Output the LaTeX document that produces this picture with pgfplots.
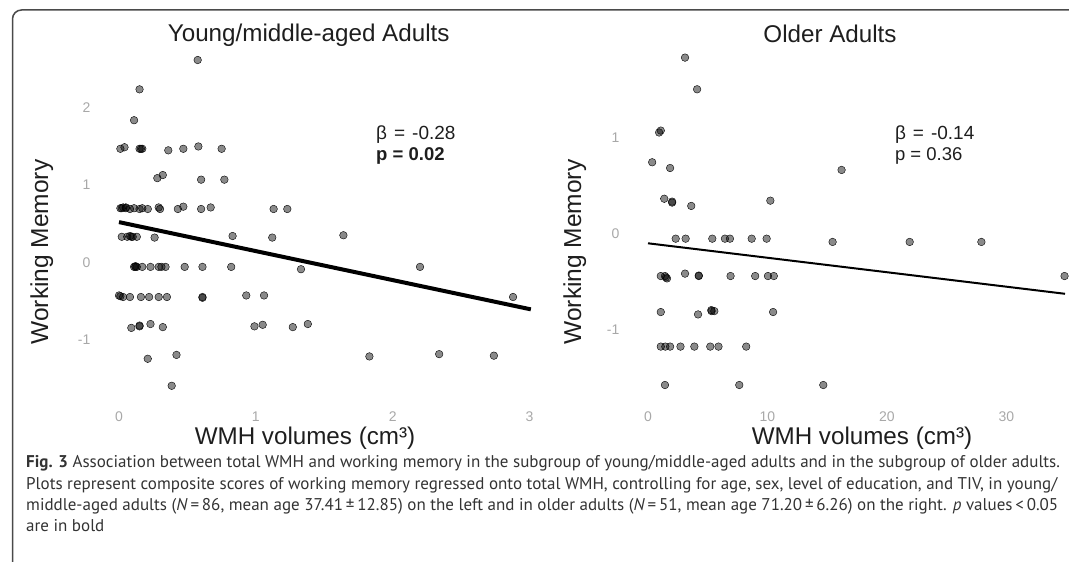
\documentclass[border=0pt]{standalone}
\usepackage{pgfplots}
\pgfplotsset{compat=1.18}
\usepackage{pgfplotstable}
\usepackage{fontspec}
\setmainfont{Liberation Sans}
\newfontfamily\capfont{PT Sans}
\definecolor{ticklab}{HTML}{A8A8A8}
\definecolor{framec}{HTML}{4A4A4A}
\definecolor{captext}{HTML}{333333}
\definecolor{labtext}{HTML}{1E1E1E}

\pgfplotstableread{
x y
0.575 2.62
0.15 2.24
0.11 1.84
0.01 1.47
0.04 1.49
0.15 1.47
0.16 1.47
0.17 1.47
0.36 1.45
0.47 1.47
0.58 1.50
0.75 1.47
0.28 1.09
0.32 1.13
0.60 1.07
0.77 1.07
0.01 0.70
0.02 0.70
0.03 0.71
0.05 0.70
0.05 0.71
0.08 0.69
0.11 0.70
0.15 0.69
0.17 0.70
0.21 0.69
0.29 0.71
0.30 0.69
0.43 0.69
0.47 0.72
0.60 0.69
0.67 0.71
1.13 0.69
1.23 0.69
0.02 0.33
0.06 0.33
0.08 0.34
0.09 0.33
0.10 0.33
0.13 0.33
0.26 0.32
0.83 0.34
1.12 0.32
1.64 0.35
0.11 -0.06
0.12 -0.06
0.12 -0.05
0.13 -0.06
0.17 -0.06
0.23 -0.06
0.29 -0.06
0.31 -0.06
0.34 -0.06
0.48 -0.06
0.61 -0.06
0.82 -0.06
1.33 -0.09
2.20 -0.06
0.00 -0.43
0.01 -0.44
0.03 -0.45
0.08 -0.45
0.16 -0.45
0.22 -0.45
0.29 -0.45
0.35 -0.45
0.61 -0.46
0.61 -0.45
0.93 -0.43
1.06 -0.43
2.88 -0.45
0.09 -0.85
0.15 -0.82
0.15 -0.83
0.23 -0.80
0.32 -0.84
0.99 -0.83
1.05 -0.81
1.27 -0.84
1.38 -0.80
0.21 -1.25
0.42 -1.20
0.385 -1.60
1.83 -1.22
2.34 -1.19
2.74 -1.21
}\youngdata

\pgfplotstableread{
x y
3.10 1.83
4.11 1.50
0.93 1.05
1.07 1.07
0.35 0.74
1.85 0.68
16.2 0.66
1.36 0.36
2.02 0.32
2.02 0.33
3.62 0.285
10.24 0.34
2.32 -0.056
3.15 -0.056
5.38 -0.056
6.44 -0.056
6.86 -0.056
8.68 -0.056
9.93 -0.056
15.45 -0.09
21.9 -0.09
27.9 -0.09
1.07 -0.445
1.42 -0.445
1.50 -0.46
1.59 -0.47
3.10 -0.42
4.25 -0.445
4.25 -0.44
6.91 -0.445
8.97 -0.445
10.04 -0.445
10.53 -0.445
34.86 -0.445
1.07 -0.82
4.19 -0.845
5.30 -0.80
5.32 -0.81
5.55 -0.81
10.47 -0.82
1.07 -1.18
1.45 -1.18
1.85 -1.18
2.72 -1.18
3.88 -1.18
5.21 -1.18
5.90 -1.18
8.22 -1.18
1.42 -1.58
7.64 -1.58
14.67 -1.58
}\olddata

\pgfplotsset{panel/.style={
  scale only axis, width=453pt, height=358.5pt, anchor=south west,
  axis line style={draw=none}, major tick length=0pt, tick style={draw=none},
  /pgf/number format/assume math mode=true,
  ticklabel style={font=\fontsize{14}{14}\selectfont, text=ticklab, inner sep=0pt},
  xticklabel style={anchor=north, yshift=-10pt},
  clip=false,
}}
\pgfplotsset{dots/.style={only marks, mark=*, mark size=3.8pt,
  mark options={draw=none, fill=black, fill opacity=0.46}}}

\begin{document}
\begin{tikzpicture}[x=1pt,y=1pt]
% frame
\draw[framec, line width=1.5pt, rounded corners=9pt] (12.5,-20) -- (12.5,552) -- (1100,552);

\begin{axis}[panel, at={(98.5pt,160pt)},
  xmin=-0.15, xmax=3.161, ymin=-1.81, ymax=2.834,
  xtick={0,1,2,3}, ytick={-1,0,1,2},
  yticklabel style={anchor=east, xshift=-8pt}]
\addplot[dots] table[x=x,y=y] {\youngdata};
\addplot[black, line width=4pt] coordinates {(0,0.52) (3.01,-0.61)};
\end{axis}

\begin{axis}[panel, at={(631.5pt,160pt)},
  xmin=-1.38, xmax=36.53, ymin=-1.757, ymax=1.977,
  xtick={0,10,20,30}, ytick={-1,0,1},
  yticklabel style={anchor=east, xshift=-12pt}]
\addplot[dots] table[x=x,y=y] {\olddata};
\addplot[black, line width=2pt] coordinates {(0,-0.104) (34.9,-0.63)};
\end{axis}

% titles
\node[anchor=base, font=\fontsize{24.2}{28}\selectfont, text=labtext] at (308.7,520.3) {Young/middle-aged Adults};
\node[anchor=base, font=\fontsize{24.2}{28}\selectfont, text=labtext] at (830,519.7) {Older Adults};
% axis labels
\node[anchor=base, font=\fontsize{24.2}{28}\selectfont, text=labtext] at (305,117) {WMH volumes (cm³)};
\node[anchor=base, font=\fontsize{24.2}{28}\selectfont, text=labtext] at (862,117) {WMH volumes (cm³)};
\node[anchor=base, rotate=90, font=\fontsize{24.5}{28}\selectfont, text=labtext] at (48,310) {Working Memory};
\node[anchor=base, rotate=90, font=\fontsize{24.5}{28}\selectfont, text=labtext] at (581,310) {Working Memory};
% annotations
\node[anchor=base west, inner sep=0pt, font=\fontsize{19}{22}\selectfont, text=labtext] at (376,422.7) {β\hspace{7pt}=\hspace{7pt}-0.28};
\node[anchor=base west, inner sep=0pt, font=\fontsize{18.5}{22}\selectfont\bfseries, text=labtext] at (376,401.3) {p = 0.02};
\node[anchor=base west, inner sep=0pt, font=\fontsize{19}{22}\selectfont, text=labtext] at (894.8,422.7) {β\hspace{7pt}=\hspace{7pt}-0.14};
\node[anchor=base west, inner sep=0pt, font=\fontsize{18.5}{22}\selectfont, text=labtext] at (894.8,401.3) {p = 0.36};
% caption
\begin{scope}[every node/.style={anchor=base west, inner sep=0pt, text=captext, font=\capfont\fontsize{17}{20}\selectfont}]
\node at (26,94.5) {\textbf{Fig. 3} Association between total WMH and working memory in the subgroup of young/middle-aged adults and in the subgroup of older adults.};
\node at (26,72.5) {Plots represent composite scores of working memory regressed onto total WMH, controlling for age, sex, level of education, and TIV, in young/};
\node at (26,51) {middle-aged adults (\textit{N}\,=\,86, mean age 37.41\,±\,12.85) on the left and in older adults (\textit{N}\,=\,51, mean age 71.20\,±\,6.26) on the right. \textit{p} values\,<\,0.05};
\node at (26,30.5) {are in bold};
\end{scope}

\pgfresetboundingbox
\path[use as bounding box] (0,0) rectangle (1069,562);
\end{tikzpicture}
\end{document}
